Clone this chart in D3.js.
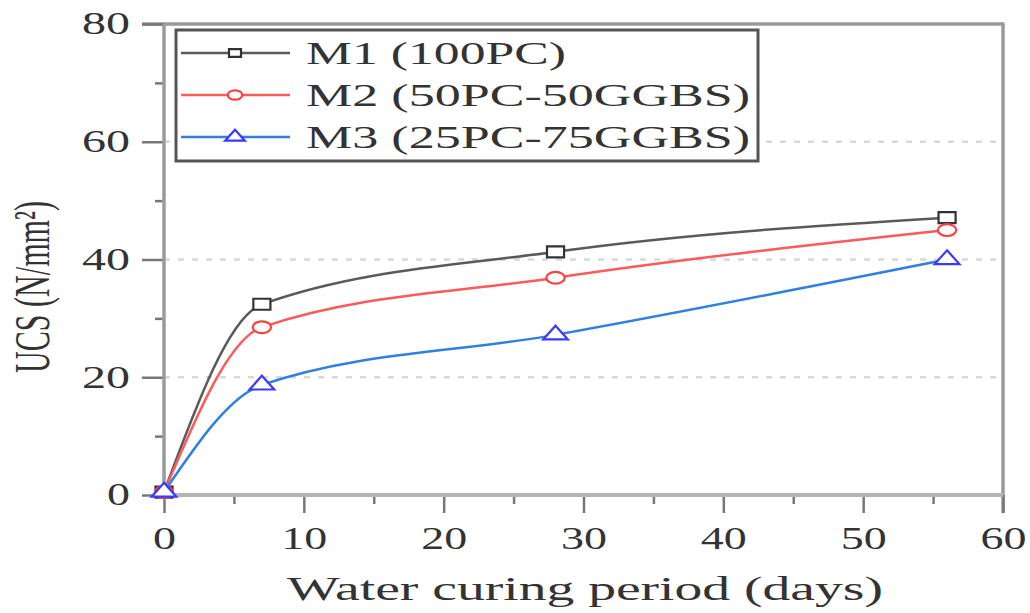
<!DOCTYPE html>
<html lang="en">
<head>
<meta charset="UTF-8">
<title>UCS vs water curing period</title>
<script src="https://d3js.org/d3.v7.min.js"></script>
<style>
  body { margin: 0; padding: 0; background: #fff; }
  svg { display: block; }
  text { font-family: "Liberation Serif", "Times New Roman", serif; fill: #333; }
</style>
</head>
<body>
<svg id="chart"></svg>
<script>
const days = [0, 7, 28, 56];
const m1 = [0.5, 32.4, 41.3, 47.1];
const m2 = [0.5, 28.5, 36.9, 45.0];
const m3 = [0.5, 18.7, 27.2, 40.0];
const seriesNames = ["M1 (100PC)", "M2 (50PC-50GGBS)", "M3 (25PC-75GGBS)"];
const xTicks = [0, 10, 20, 30, 40, 50, 60];
const xMinor = [5, 15, 25, 35, 45, 55];
const yTicks = [0, 20, 40, 60, 80];
const yMinor = [10, 30, 50, 70];
const gridValues = [20, 40, 60];

const width = 1030, height = 613;
const svg = d3.select("#chart").attr("width", width).attr("height", height);

const x = d3.scaleLinear().domain([0, 60]).range([164, 1003]);
const y = d3.scaleLinear().domain([0, 80]).range([495, 24]);

const series = [
  { name: seriesNames[0], vals: m1, line: "#5a5a5a", mark: "#333", sym: d3.symbolSquare, size: 121, lsize: 60 },
  { name: seriesNames[1], vals: m2, line: "#ff5a5a", mark: "#ff4040", sym: d3.symbolCircle, size: 110, lsize: 70 },
  { name: seriesNames[2], vals: m3, line: "#2f80e0", mark: "#3a3aff", sym: d3.symbolTriangle, size: 110, lsize: 70 }
];

// grid
svg.append("g").selectAll("line")
  .data(gridValues)
  .enter().append("line")
  .attr("x1", x(0)).attr("x2", x(60))
  .attr("y1", d => y(d)).attr("y2", d => y(d))
  .attr("stroke", "#d8d8d8")
  .attr("stroke-width", 2.5)
  .attr("stroke-dasharray", "6,8");

// frame top and right
svg.append("line")
  .attr("x1", x(0) - 22).attr("x2", x(60) + 1.5)
  .attr("y1", y(80)).attr("y2", y(80))
  .attr("stroke", "#9a9a9a").attr("stroke-width", 3.5);
svg.append("line")
  .attr("x1", x(60)).attr("x2", x(60))
  .attr("y1", y(80)).attr("y2", y(0) + 18)
  .attr("stroke", "#9a9a9a").attr("stroke-width", 3.5);

// axes
function styleAxis(g) {
  g.select(".domain").remove();
  g.selectAll(".tick line").attr("stroke", "#777").attr("stroke-width", 2.5);
}

svg.append("g")
  .attr("transform", `translate(0,${y(0)})`)
  .call(d3.axisBottom(x).tickValues(xMinor).tickSize(9).tickFormat(""))
  .call(styleAxis);

const xAx = svg.append("g")
  .attr("transform", `translate(0,${y(0)})`)
  .call(d3.axisBottom(x).tickValues(xTicks).tickSize(18).tickPadding(14))
  .call(styleAxis);
xAx.selectAll(".tick text")
  .style("font-size", "31px")
  .attr("fill", "#333")
  .attr("textLength", d => d === 0 ? 23 : 46)
  .attr("lengthAdjust", "spacingAndGlyphs");

svg.append("g")
  .attr("transform", `translate(${x(0)},0)`)
  .call(d3.axisLeft(y).tickValues(yMinor).tickSize(9).tickFormat(""))
  .call(styleAxis);

const yAx = svg.append("g")
  .attr("transform", `translate(${x(0)},0)`)
  .call(d3.axisLeft(y).tickValues(yTicks).tickSize(22).tickPadding(12))
  .call(styleAxis);
yAx.selectAll(".tick text")
  .style("font-size", "31px")
  .attr("fill", "#333")
  .attr("textLength", d => d === 0 ? 23 : 48)
  .attr("lengthAdjust", "spacingAndGlyphs");

// axis lines
svg.append("line")
  .attr("x1", x(0)).attr("x2", x(0))
  .attr("y1", y(80)).attr("y2", y(0))
  .attr("stroke", "#9a9a9a").attr("stroke-width", 3.5);
svg.append("line")
  .attr("x1", x(0) - 8).attr("x2", x(60))
  .attr("y1", y(0)).attr("y2", y(0))
  .attr("stroke", "#b5b5b5").attr("stroke-width", 4);

// axis titles
svg.append("text")
  .attr("x", 287).attr("y", 600)
  .attr("textLength", 596).attr("lengthAdjust", "spacingAndGlyphs")
  .style("font-size", "33px")
  .text("Water curing period (days)");

svg.append("text")
  .attr("transform", "translate(49,373) rotate(-90)")
  .attr("textLength", 172).attr("lengthAdjust", "spacingAndGlyphs")
  .style("font-size", "50px")
  .text("UCS (N/mm²)");

// lines and markers
const line = d3.line()
  .x((d, i) => x(days[i]))
  .y(d => y(d))
  .curve(d3.curveMonotoneX);

series.forEach(s => {
  svg.append("path")
    .attr("d", line(s.vals))
    .attr("fill", "none")
    .attr("stroke", s.line)
    .attr("stroke-width", 2.5);

  svg.append("g").selectAll("path")
    .data(s.vals)
    .enter().append("path")
    .attr("d", d3.symbol().type(s.sym).size(s.size))
    .attr("transform", (d, i) => `translate(${x(days[i])},${y(d)}) scale(1.55,1)`)
    .attr("fill", "#fff")
    .attr("stroke", s.mark)
    .attr("stroke-width", 2.2)
    .attr("vector-effect", "non-scaling-stroke");
});

// legend
const leg = svg.append("g");
leg.append("rect")
  .attr("x", 176).attr("y", 30)
  .attr("width", 582).attr("height", 131)
  .attr("fill", "#fff")
  .attr("stroke", "#555").attr("stroke-width", 3);

const rowsY = [53, 95, 137];
const textLens = [260, 444, 444];
series.forEach((s, i) => {
  const ry = rowsY[i];
  leg.append("line")
    .attr("x1", 181).attr("x2", 290)
    .attr("y1", ry).attr("y2", ry)
    .attr("stroke", s.line).attr("stroke-width", 2.5);
  leg.append("path")
    .attr("d", d3.symbol().type(s.sym).size(s.lsize))
    .attr("transform", `translate(235,${ry}) scale(1.55,1)`)
    .attr("fill", "#fff")
    .attr("stroke", s.mark)
    .attr("stroke-width", 2.2)
    .attr("vector-effect", "non-scaling-stroke");
  leg.append("text")
    .attr("x", 306).attr("y", ry + 11)
    .attr("textLength", textLens[i]).attr("lengthAdjust", "spacingAndGlyphs")
    .style("font-size", "31px")
    .text(s.name);
});
</script>
</body>
</html>
